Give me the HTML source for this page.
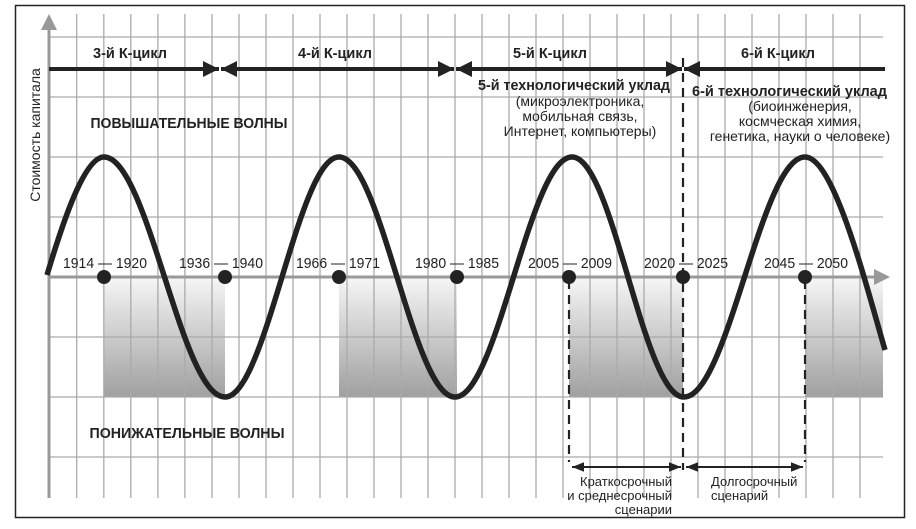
<!DOCTYPE html>
<html><head><meta charset="utf-8"><style>
body{margin:0;background:#fff}
svg{display:block;font-family:"Liberation Sans","Noto Sans CJK SC",sans-serif}
</style></head><body>
<svg width="916" height="529" viewBox="0 0 916 529">
<defs>
<linearGradient id="g" x1="0" y1="0" x2="0" y2="1">
<stop offset="0" stop-color="#f6f6f6"/><stop offset="1" stop-color="#a0a0a0"/>
</linearGradient>
<marker id="ah" viewBox="0 0 10 10" refX="10" refY="5" markerWidth="4" markerHeight="4" orient="auto-start-reverse"><path d="M0,0L10,5L0,10z" fill="#222"/></marker>
<marker id="as" viewBox="0 0 10 10" refX="10" refY="5" markerWidth="6" markerHeight="6" orient="auto-start-reverse"><path d="M0,1L10,5L0,9z" fill="#222"/></marker>
</defs>
<rect x="15.5" y="5.5" width="889" height="512" fill="#fff" stroke="#222" stroke-width="1.5"/>
<rect x="104" y="277" width="121" height="120" fill="url(#g)"/>
<rect x="339" y="277" width="118" height="120" fill="url(#g)"/>
<rect x="569" y="277" width="114" height="120" fill="url(#g)"/>
<rect x="805" y="277" width="78" height="120" fill="url(#g)"/>
<g stroke="#aaa" stroke-width="1.3">
<path d="M76.7 14V498M103.8 14V498M130.8 14V498M157.9 14V498M184.9 14V498M212 14V498M239 14V498M266 14V498M293 14V498M320 14V498M347 14V498M374 14V498M401 14V498M428 14V498M455 14V498M482 14V498M509 14V498M536 14V498M563 14V498M590 14V498M617 14V498M644 14V498M671 14V498M698 14V498M725 14V498M752 14V498M779 14V498M806 14V498M833 14V498M860 14V498"/>
<path d="M49 37H883M49 97H883M49 157H883M49 217H883M49 337H883M49 397H883M49 457H883"/>
</g>
<line x1="49" y1="498" x2="49" y2="30" stroke="#999" stroke-width="3"/>
<path d="M41 30L49 14L57 30z" fill="#999"/>
<line x1="49" y1="277" x2="875" y2="277" stroke="#999" stroke-width="3"/>
<path d="M874 269L890 277L874 285z" fill="#999"/>
<text transform="translate(40,135) rotate(-90)" font-size="14" text-anchor="middle" fill="#222">Стоимость капитала</text>
<path fill="none" stroke="#222" stroke-width="5.5" d="M47,275 C62,225 84,157 104,157 C148,157 181,397 225,397 C266,397 298,157 339,157 C381,157 413,397 455,397 C497.5,397 529.5,157 572,157 C613,157 643,397 684,397 C728,397 761,157 805,157 C834,157 866,285 885,350"/>
<g stroke="#222" stroke-width="2.2" stroke-dasharray="9,6">
<line x1="569" y1="280" x2="569" y2="462"/>
<line x1="683" y1="58" x2="683" y2="470"/>
<line x1="805" y1="280" x2="805" y2="462"/>
</g>
<g fill="#222">
<circle cx="104" cy="277" r="7"/><circle cx="225" cy="277" r="7"/><circle cx="339" cy="277" r="7"/><circle cx="457" cy="277" r="7"/><circle cx="569" cy="277" r="7"/><circle cx="683" cy="277" r="7"/><circle cx="805" cy="277" r="7"/>
</g>
<g stroke="#222" stroke-width="4" marker-end="url(#ah)">
<line x1="49" y1="69" x2="219" y2="69"/>
<line x1="221" y1="69" x2="454" y2="69" marker-start="url(#ah)"/>
<line x1="456" y1="69" x2="682" y2="69" marker-start="url(#ah)"/>
<line x1="684" y1="69" x2="885" y2="69" marker-start="url(#ah)" marker-end="none"/>
</g>
<g stroke="#222" stroke-width="2" marker-end="url(#as)">
<line x1="572" y1="467" x2="681" y2="467" marker-start="url(#as)"/>
<line x1="686" y1="467" x2="803" y2="467" marker-start="url(#as)"/>
</g>
<g font-size="14.5" font-weight="bold" fill="#222" text-anchor="middle">
<text x="130" y="58">3-й К-цикл</text>
<text x="335" y="58">4-й К-цикл</text>
<text x="550" y="58">5-й К-цикл</text>
<text x="778" y="58">6-й К-цикл</text>
<text x="189" y="128" textLength="197" lengthAdjust="spacingAndGlyphs">ПОВЫШАТЕЛЬНЫЕ ВОЛНЫ</text>
<text x="187" y="438" textLength="195" lengthAdjust="spacingAndGlyphs">ПОНИЖАТЕЛЬНЫЕ ВОЛНЫ</text>
<text x="478" y="90" textLength="192" lengthAdjust="spacingAndGlyphs" text-anchor="start">5-й технологический уклад</text>
<text x="692" y="96" textLength="195" lengthAdjust="spacingAndGlyphs" text-anchor="start">6-й технологический уклад</text>
</g>
<g font-size="14" fill="#222" text-anchor="middle">
<text x="580" y="106">(микроэлектроника,</text>
<text x="580" y="121">мобильная связь,</text>
<text x="580" y="136">Интернет, компьютеры)</text>
<text x="800" y="111">(биоинженерия,</text>
<text x="800" y="126">космческая химия,</text>
<text x="800" y="141">генетика, науки о человеке)</text>
</g>
<g font-size="15" fill="#222" text-anchor="middle">
<text x="105" y="268" textLength="84" lengthAdjust="spacingAndGlyphs">1914 — 1920</text>
<text x="221" y="268" textLength="84" lengthAdjust="spacingAndGlyphs">1936 — 1940</text>
<text x="338" y="268" textLength="84" lengthAdjust="spacingAndGlyphs">1966 — 1971</text>
<text x="457" y="268" textLength="84" lengthAdjust="spacingAndGlyphs">1980 — 1985</text>
<text x="570" y="268" textLength="84" lengthAdjust="spacingAndGlyphs">2005 — 2009</text>
<text x="686" y="268" textLength="84" lengthAdjust="spacingAndGlyphs">2020 — 2025</text>
<text x="806" y="268" textLength="84" lengthAdjust="spacingAndGlyphs">2045 — 2050</text>
</g>
<g font-size="13" fill="#222" text-anchor="end">
<text x="672" y="486">Краткосрочный</text>
<text x="672" y="500">и среднесрочный</text>
<text x="672" y="514">сценарии</text>
</g>
<g font-size="13" fill="#222" text-anchor="start">
<text x="711" y="486">Долгосрочный</text>
<text x="711" y="500">сценарий</text>
</g>
</svg>
</body></html>
